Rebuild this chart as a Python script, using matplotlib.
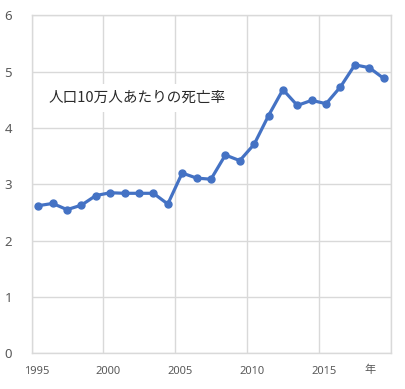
import matplotlib
matplotlib.use("Agg")
import matplotlib.pyplot as plt
import matplotlib.transforms as mtransforms

plt.rcParams['font.family'] = ['Noto Sans CJK JP', 'DejaVu Sans']

years = list(range(1995, 2020))
rates = [2.62, 2.66, 2.55, 2.63, 2.80, 2.85, 2.84, 2.84, 2.84, 2.65,
         3.20, 3.11, 3.09, 3.52, 3.42, 3.71, 4.22, 4.68, 4.40, 4.49,
         4.43, 4.73, 5.12, 5.07, 4.88]
xtick_years = [1995, 2000, 2005, 2010, 2015]
yticks = [0, 1, 2, 3, 4, 5, 6]
title_text = "人口10万人あたりの死亡率"
xunit = "年"

fig = plt.figure(figsize=(4.06, 3.89), dpi=100)
ax = fig.add_axes([0.0776, 0.0918, 0.8862, 0.8689])

grid_c = '#d9d9d9'
text_c = '#595959'

xs = [y + 0.47 for y in years]
ax.plot(xs, rates, color='#4472c4', lw=2.3, marker='o', ms=5,
        solid_joinstyle='round', zorder=3)

ax.set_xlim(1995, 2020)
ax.set_ylim(0, 6)
ax.set_xticks(xtick_years + [2020])
ax.set_xticklabels([str(y) for y in xtick_years] + [''])
ax.set_yticks(yticks)
ax.set_yticklabels([str(v) for v in yticks])
ax.grid(True, color=grid_c, lw=1)
ax.set_axisbelow(True)
for s in ax.spines.values():
    s.set_color(grid_c)
    s.set_linewidth(1)
ax.tick_params(axis='both', length=0, colors=text_c)
ax.tick_params(axis='y', labelsize=9.5, pad=14)
ax.tick_params(axis='x', labelsize=8, pad=9)
offset = mtransforms.ScaledTranslation(5/100, 0, fig.dpi_scale_trans)
for lab in ax.get_xticklabels():
    lab.set_transform(lab.get_transform() + offset)
    lab.set_fontfamily(['Noto Sans', 'DejaVu Sans'])
for lab in ax.get_yticklabels():
    lab.set_fontfamily(['Noto Sans', 'DejaVu Sans'])

ax.text(1996.2, 4.53, title_text, fontsize=10.5, color='#2a2a2a', va='center', ha='left',
        bbox=dict(facecolor='white', edgecolor='none', pad=5), zorder=2)
fig.text(370/406, 1 - 370/389, xunit, fontsize=8, color=text_c, ha='center', va='center')

fig.savefig('out.png', dpi=100)
